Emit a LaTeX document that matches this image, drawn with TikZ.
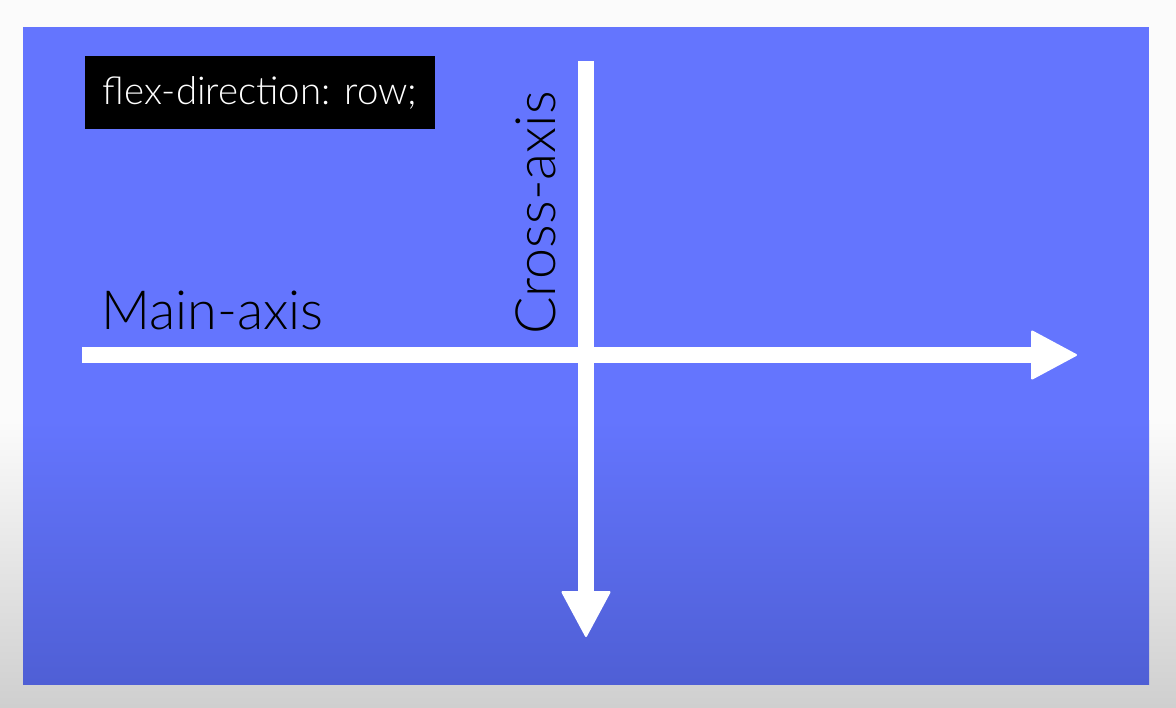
\documentclass[tikz,border=0pt]{standalone}
\usepackage{fontspec}
\setmainfont{Lato}[UprightFont={* Light}]
\usetikzlibrary{arrows.meta}
\definecolor{bluetop}{HTML}{6475FE}
\definecolor{bluebot}{HTML}{4F5FD5}
\definecolor{greybot}{HTML}{CFCFCF}
\definecolor{whitetop}{HTML}{FBFBFB}
\tikzset{
  axisline/.style={white, line width=8pt, -{Triangle[length=23.5pt,width=25pt,line width=1pt,round]}, line join=round},
  codebox/.style={fill=black, text=white, inner sep=0pt, minimum width=175pt, minimum height=36.5pt, font=\fontsize{19.2}{23}\selectfont},
  axislabel/.style={text=black, inner sep=0pt, font=\fontsize{27}{31}\selectfont}
}
\begin{document}
\begin{tikzpicture}[x=0.5pt,y=-0.5pt]
\useasboundingbox (0,0) rectangle (1176,707);
% page background
\fill[whitetop] (0,0) rectangle (1176,421);
\shade[top color=whitetop, bottom color=greybot] (0,420) rectangle (1176,707);
% blue panel
\fill[bluetop] (23,27) rectangle (1149,421);
\shade[top color=bluetop, bottom color=bluebot] (23,420) rectangle (1149,684);
% axes
\coordinate (hstart) at (82,355);
\coordinate (hend) at (1077,355);
\coordinate (vstart) at (586,61);
\coordinate (vend) at (586,637);
\draw[axisline] (hstart) -- (hend);
\draw[axisline] (vstart) -- (vend);
% code box
\node[codebox] (code) at (260,92.5) {flex-direction: row;};
% labels
\node[axislabel, anchor=base west] (main) at (101,329) {Main-axis};
\node[axislabel, anchor=base west, rotate=90, font=\fontsize{27.8}{32}\selectfont] (cross) at (555,335) {Cross-axis};
\end{tikzpicture}
\end{document}
